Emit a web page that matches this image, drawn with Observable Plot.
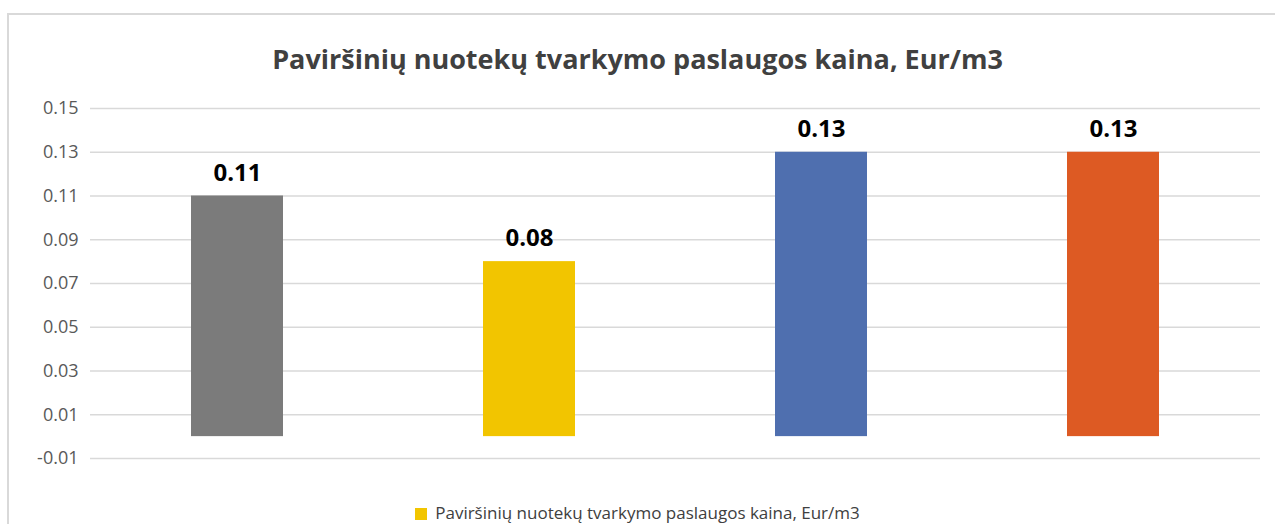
<!DOCTYPE html>
<html>
<head>
<meta charset="utf-8">
<script src="https://cdn.jsdelivr.net/npm/d3@7"></script>
<script src="https://cdn.jsdelivr.net/npm/@observablehq/plot@0.6"></script>
<style>
  html, body { margin: 0; padding: 0; background: #fff; width: 1275px; height: 524px; overflow: hidden; position: relative; }
  #frame { position: absolute; left: 7px; top: 13px; width: 1300px; height: 540px; border: 2px solid #d9d9d9; box-sizing: border-box; }
  #title { position: absolute; left: 0; top: 42px; width: 1275px; text-align: center; font-family: "Open Sans", sans-serif; font-weight: bold; font-size: 27px; color: #404040; line-height: 34px; }
  #chart { position: absolute; left: 0; top: 90px; }
  #legend { position: absolute; left: 0; top: 501px; width: 1275px; text-align: center; font-family: "Open Sans", sans-serif; font-size: 17px; color: #404040; line-height: 24px; }
  #legend .sw { display: inline-block; width: 12px; height: 12px; background: #f2c500; margin-right: 8px; vertical-align: -1px; }
</style>
</head>
<body>
<div id="frame"></div>
<div id="title">Paviršinių nuotekų tvarkymo paslaugos kaina, Eur/m3</div>
<div id="chart"></div>
<div id="legend"><span class="sw"></span>Paviršinių nuotekų tvarkymo paslaugos kaina, Eur/m3</div>
<script>
const categories = ["1", "2", "3", "4"];
const values = [0.11, 0.08, 0.13, 0.13];
const barColors = ["#7b7b7b", "#f2c500", "#4f6faf", "#dd5a23"];
const yTicks = [-0.01, 0.01, 0.03, 0.05, 0.07, 0.09, 0.11, 0.13, 0.15];

const data = categories.map((c, i) => ({category: c, value: values[i], color: barColors[i]}));

const chart = Plot.plot({
  width: 1275,
  height: 390,
  marginLeft: 90,
  marginRight: 15,
  marginTop: 18,
  marginBottom: 22,
  style: { fontFamily: "Open Sans, sans-serif", background: "transparent" },
  x: { domain: categories, paddingInner: 0.685, paddingOuter: 0.3425, axis: null },
  y: { domain: [-0.01, 0.15], ticks: yTicks, axis: null },
  marks: [
    Plot.ruleY(yTicks, { stroke: "#d9d9d9", strokeWidth: 1.5 }),
    Plot.axisY(yTicks, { tickSize: 0, tickPadding: 12, tickFormat: d => d.toFixed(2), fontSize: 18, fill: "#595959", label: null }),
    Plot.barY(data, { x: "category", y: "value", fill: "color" }),
    Plot.text(data, { x: "category", y: "value", text: d => d.value.toFixed(2), dy: -23, fontSize: 24, fontWeight: "bold", fill: "#000" })
  ]
});
document.getElementById("chart").appendChild(chart);
</script>
</body>
</html>
